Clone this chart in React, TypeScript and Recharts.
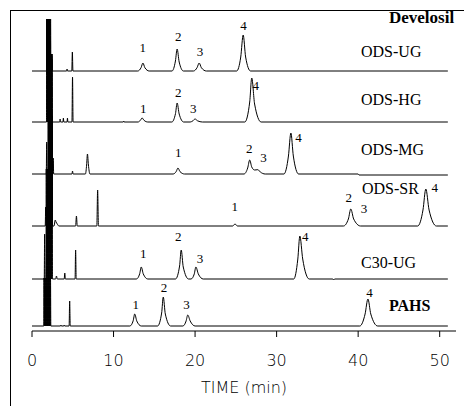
import React from 'react';
import { LineChart, Line, XAxis, YAxis, ReferenceDot } from 'recharts';

type Pt = [number, number];

// retention time (min), detector signal (arbitrary units) for each column
const odsUG: Pt[] = [
  [0, 0], [1.78, 0], [1.8, 52], [1.84, 0], [1.88, 52], [1.92, 0], [1.96, 52], [2.0, 0], [2.04, 52], [2.08, 0],
  [2.12, 52], [2.16, 0], [2.2, 52], [2.24, 0], [2.28, 52], [2.32, 0],
  [2.4, 0], [2.45, 12], [2.5, 0],
  [4.25, 0], [4.3, 2], [4.35, 0],
  [4.88, 0], [4.95, 19], [5.02, 0],
  [12.97, 0], [13.39, 3.6], [13.6, 8], [13.85, 3.2], [14.37, 0],
  [17.17, 0], [17.59, 10], [17.8, 22], [18.05, 9], [18.57, 0],
  [19.8, 0], [20.26, 3.6], [20.5, 8], [20.78, 3.2], [21.38, 0],
  [25.1, 0], [25.6, 14], [25.9, 36], [26.2, 14], [26.8, 0],
  [51, 0],
];

const odsHG: Pt[] = [
  [0, 0], [1.78, 0], [1.8, 103], [1.84, 0], [1.88, 103], [1.92, 0], [1.96, 103], [2.0, 0], [2.04, 103], [2.08, 0],
  [2.12, 103], [2.16, 0],
  [2.35, 0], [2.4, 32], [2.45, 0],
  [3.4, 0], [3.45, 3], [3.5, 0], [3.8, 0], [3.85, 4], [3.9, 0], [4.3, 0], [4.35, 4], [4.4, 0],
  [4.9, 0], [4.97, 45], [5.04, 0],
  [11.2, 0], [11.25, 1], [11.3, 0],
  [13.0, 0], [13.3, 1.8], [13.5, 4], [13.75, 1.6], [14.2, 0],
  [17.15, 0], [17.6, 8.5], [17.8, 19], [18.05, 8], [18.6, 0],
  [19.4, 0], [19.75, 1.3], [20.0, 3], [20.3, 1.2], [20.9, 0],
  [26.1, 0], [26.7, 20], [26.95, 44], [27.3, 18], [28.1, 0],
  [51, 0],
];

const odsMG: Pt[] = [
  [0, 0], [1.75, 0], [1.8, 32], [1.85, 0], [1.98, 0],
  [2.0, 120], [2.04, 0], [2.08, 120], [2.12, 0], [2.16, 120], [2.2, 0], [2.24, 120], [2.28, 0], [2.32, 120],
  [2.36, 0], [2.4, 120], [2.44, 0], [2.48, 120], [2.52, 0],
  [2.56, 0], [2.6, 16], [2.66, 0],
  [4.9, 0], [4.97, 3], [5.04, 0],
  [6.55, 0], [6.7, 9], [6.8, 20], [6.92, 9], [7.1, 0],
  [17.3, 0], [17.7, 2.7], [17.9, 6], [18.15, 2.4], [18.7, 0],
  [26.0, 0], [26.45, 6], [26.7, 14], [26.95, 7], [27.3, 4], [27.7, 4.3], [28.0, 2], [28.6, 0],
  [30.9, 0], [31.45, 18], [31.75, 41], [32.05, 18], [32.7, 0],
  [40, 0], [40.1, -1], [51, -1],
];

const odsSR: Pt[] = [
  [0, 0], [1.62, 0], [1.68, 19], [1.74, 0], [1.98, 0],
  [2.0, 110], [2.04, 0], [2.08, 110], [2.12, 0], [2.16, 110], [2.2, 0], [2.24, 110], [2.28, 0], [2.32, 110],
  [2.36, 0], [2.4, 110], [2.44, 0], [2.48, 110], [2.52, 0],
  [2.7, 0], [2.85, 6], [2.95, 4], [3.1, 2], [3.3, 0],
  [5.35, 0], [5.45, 10], [5.55, 0],
  [7.95, 0], [8.05, 36], [8.15, 0],
  [24.6, 0], [24.9, 2], [25.2, 0],
  [38.2, 0], [38.8, 7], [39.1, 17], [39.45, 7], [40.3, 0],
  [47.3, 0], [47.95, 16], [48.3, 37], [48.7, 16], [49.6, 0],
  [51, 0],
];

const c30UG: Pt[] = [
  [0, 0], [1.5, 0], [1.55, 45], [1.6, 0], [1.72, 0],
  [1.75, 110], [1.79, 0], [1.83, 110], [1.87, 0], [1.91, 110], [1.95, 0], [1.99, 110], [2.03, 0], [2.07, 110],
  [2.11, 0], [2.15, 110], [2.19, 0], [2.23, 110], [2.27, 0], [2.31, 110], [2.35, 0], [2.39, 110], [2.43, 0],
  [2.47, 110], [2.51, 0],
  [2.9, 0], [3.0, 3], [3.1, 0],
  [3.95, 0], [4.02, 6], [4.09, 0],
  [5.28, 0], [5.35, 29], [5.42, 0],
  [12.8, 0], [13.2, 5], [13.4, 12], [13.65, 5], [14.2, 0],
  [17.6, 0], [18.1, 13], [18.3, 29], [18.55, 12], [19.2, 0],
  [19.5, 0], [19.9, 5], [20.1, 12], [20.4, 5], [21.0, 0],
  [32.1, 0], [32.6, 20], [32.85, 43], [33.2, 20], [34.0, 0],
  [36.9, 0], [37.0, -1], [37.1, 0],
  [51, 0],
];

const pahs: Pt[] = [
  [0, 0], [1.45, 0],
  [1.47, 48], [1.51, 0], [1.55, 48], [1.59, 0], [1.63, 48], [1.67, 0], [1.71, 48], [1.75, 0], [1.79, 48],
  [1.83, 0], [1.87, 48], [1.91, 0], [1.95, 48], [1.99, 0], [2.03, 48], [2.07, 0], [2.11, 48], [2.15, 0],
  [2.19, 48], [2.23, 0], [2.27, 48], [2.31, 0],
  [3.5, 0], [3.55, 1], [3.6, 0], [3.9, 0], [3.95, 1], [4.0, 0],
  [4.55, 0], [4.62, 25], [4.69, 0],
  [12.0, 0], [12.4, 5], [12.6, 12], [12.85, 5], [13.4, 0],
  [15.4, 0], [15.9, 13], [16.1, 29], [16.35, 12], [17.0, 0],
  [18.5, 0], [18.9, 5], [19.1, 11], [19.4, 5], [20.0, 0],
  [40.2, 0], [40.85, 12], [41.2, 27], [41.55, 12], [42.4, 0],
  [51, 0],
];

const seriesNames = ['ODS-UG', 'ODS-HG', 'ODS-MG', 'ODS-SR', 'C30-UG', 'PAHS'];
const groupTitle = 'Develosil';
const xTicks = [0, 10, 20, 30, 40, 50];
const xTitle = 'TIME (min)';

// peak number annotations: series index, time, signal, text
const peakLabels: [number, number, number, string][] = [
  [0, 13.57, 23.8, '1'], [0, 17.93, 34.3, '2'], [0, 20.59, 19.7, '3'], [0, 25.94, 45.2, '4'],
  [1, 13.64, 14, '1'], [1, 17.93, 29.5, '2'], [1, 19.77, 14, '3'], [1, 27.45, 36.5, '4'],
  [2, 17.93, 21.3, '1'], [2, 26.63, 26, '2'], [2, 28.39, 16.5, '3'], [2, 32.68, 36.8, '4'],
  [3, 24.88, 20, '1'], [3, 38.85, 28.8, '2'], [3, 40.72, 17.7, '3'], [3, 49.39, 38.5, '4'],
  [4, 13.64, 25.2, '1'], [4, 17.93, 42.8, '2'], [4, 20.59, 20.2, '3'], [4, 33.5, 42.8, '4'],
  [5, 12.71, 21.5, '1'], [5, 16.18, 38.8, '2'], [5, 18.96, 21.5, '3'], [5, 41.38, 33.5, '4'],
];

const seriesData = [odsUG, odsHG, odsMG, odsSR, c30UG, pahs];

// layout: per-trace vertical axis windows (stacked chromatograms)
const axisDomains: [number, number][] = [
  [-260, 52], [-209, 103], [-157, 155], [-105, 207], [-52, 260], [-5, 307],
];
const namePlacement: { t: number; v: number; bold?: boolean }[] = [
  { t: 40.35, v: 20 }, { t: 40.35, v: 22.5 }, { t: 40.35, v: 24.5 },
  { t: 40.47, v: 38 }, { t: 40.35, v: 17 }, { t: 43.78, v: 21, bold: true },
];

const rows = (pts: Pt[]) => pts.map(([t, v]) => ({ t, v }));

const textShape = (text: string, opts: { anchor?: string; size?: number; bold?: boolean; family?: string }) =>
  (props: any) => (
    <text
      x={props.cx}
      y={props.cy}
      textAnchor={opts.anchor || 'middle'}
      dominantBaseline="central"
      fontFamily={opts.family || "'Liberation Serif', serif"}
      fontSize={opts.size || 13}
      fontWeight={opts.bold ? 'bold' : 'normal'}
      fill="#000"
    >
      {text}
    </text>
  );

export default function App() {
  return (
    <div style={{ position: 'absolute', left: 0, top: 0, width: 464, height: 406, background: '#fff' }}>
      <div
        style={{
          position: 'absolute', left: 10, top: 10, width: 454, height: 396,
          borderLeft: '1px solid #000', borderTop: '1px solid #000', boxSizing: 'border-box',
        }}
      />
      <div style={{ position: 'absolute', left: 0, top: 0 }}>
        <LineChart width={464} height={406} margin={{ top: 19, right: 8, bottom: 0, left: 32 }}>
          <XAxis
            dataKey="t"
            type="number"
            domain={[0, 52]}
            ticks={xTicks}
            allowDataOverflow
            height={75}
            tickSize={6}
            tickMargin={18}
            axisLine={{ stroke: '#000', strokeWidth: 1 }}
            tickLine={{ stroke: '#000', strokeWidth: 1 }}
            tick={{ fill: '#000', fontSize: 16, fontFamily: "'DejaVu Sans', sans-serif", fontWeight: 200 }}
            label={{
              value: xTitle, position: 'insideBottom', offset: 13, fill: '#000', fontSize: 16,
              fontFamily: "'DejaVu Sans', sans-serif", fontWeight: 200,
            }}
          />
          {axisDomains.map((d, i) => (
            <YAxis key={`y${i}`} yAxisId={`s${i}`} hide type="number" domain={d} allowDataOverflow />
          ))}
          {seriesData.map((pts, i) => (
            <Line
              key={`l${i}`}
              yAxisId={`s${i}`}
              data={rows(pts)}
              dataKey="v"
              type="monotone"
              stroke="#000"
              strokeWidth={1}
              dot={false}
              activeDot={false}
              isAnimationActive={false}
            />
          ))}
          {peakLabels.map(([s, t, v, txt], i) => (
            <ReferenceDot
              key={`p${i}`}
              yAxisId={`s${s}`}
              x={t}
              y={v}
              r={1}
              ifOverflow="visible"
              shape={textShape(txt, { size: 13 })}
            />
          ))}
          {seriesNames.map((name, i) => (
            <ReferenceDot
              key={`n${i}`}
              yAxisId={`s${i}`}
              x={namePlacement[i].t}
              y={namePlacement[i].v}
              r={1}
              ifOverflow="visible"
              shape={textShape(name, { anchor: 'start', size: 16, bold: namePlacement[i].bold })}
            />
          ))}
          <ReferenceDot
            yAxisId="s0"
            x={43.78}
            y={54}
            r={1}
            ifOverflow="visible"
            shape={textShape(groupTitle, { anchor: 'start', size: 17, bold: true })}
          />
        </LineChart>
      </div>
    </div>
  );
}
